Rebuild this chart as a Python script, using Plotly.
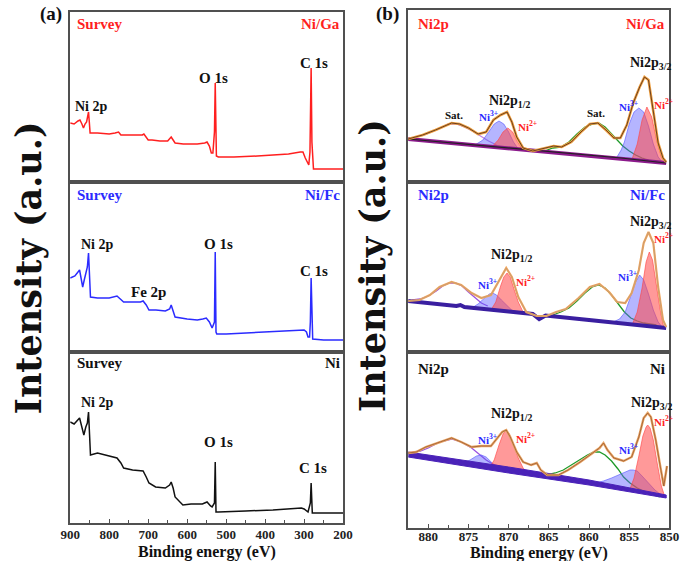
import plotly.graph_objects as go

# ---------------- survey spectra (left, a) ----------------
ga_sv_E = [900, 890, 880, 875, 870, 866, 862, 858, 855, 853, 851, 849, 830, 800, 785, 776, 770, 740, 715, 711, 705, 700,
           690, 670, 650, 641, 636, 631, 610, 590, 574, 555, 549, 543, 538, 534, 530, 528, 527, 525, 520, 480, 420, 380,
           340, 310, 303, 297, 291, 288, 285, 282, 280, 278, 276, 240, 200]
ga_sv_I = [59, 58, 61, 62, 58, 54, 58, 60, 66, 70, 60, 49, 49, 48, 49, 50, 47, 47, 47, 48, 45, 42,
           42, 41, 41, 45, 42, 39, 38, 38, 38, 39, 40, 36, 29, 29, 50, 99, 60, 26, 25, 25, 26, 27,
           28, 30, 30, 24, 18, 17, 30, 114, 40, 15, 13, 13, 13]

fc_sv_E = [900, 888, 876, 868, 864, 860, 856, 853, 850, 848, 830, 800, 780, 770, 763, 740, 720, 713, 705, 698, 680,
           656, 645, 641, 636, 631, 600, 574, 560, 551, 543, 536, 530, 528, 526, 524, 500, 450, 400, 350, 307, 300,
           294, 290, 286, 284, 282, 280, 278, 250, 200]
fc_sv_I = [74, 76, 82, 65, 72, 79, 85, 99, 70, 55, 54, 54, 56, 53, 50, 50, 50, 51, 47, 42, 42,
           41, 43, 47, 40, 35, 33, 32, 33, 34, 30, 24, 30, 100, 20, 18, 18, 19, 20, 21, 22, 22,
           20, 15, 15, 30, 74, 20, 13, 12, 12]

ni_sv_E = [900, 890, 876, 870, 865, 860, 856, 853, 850, 848, 830, 800, 780, 770, 763, 740, 713, 705, 698, 681, 656,
           645, 641, 636, 631, 611, 590, 561, 549, 540, 536, 530, 528, 526, 520, 450, 380, 307, 300, 290, 284, 282,
           279, 250, 200]
ni_sv_I = [101, 99, 105, 95, 88, 96, 100, 111, 80, 68, 70, 67, 65, 60, 55, 53, 52, 46, 40, 36, 35,
           38, 41, 35, 26, 18, 19, 19, 21, 17, 16, 20, 61, 11, 11, 12, 13, 15, 14, 11, 20, 40,
           10, 10, 10]

# ---------------- Ni 2p high-resolution (right, b) ----------------
# Ni/Ga
ga_env_E = [882.5, 880.7, 879.1, 877.1, 876.1, 875.0, 873.8, 872.8, 871.9, 871.0, 870.2, 869.6, 869.0, 868.2, 867.0,
            865.8, 864.4, 863.4, 862.2, 861.0, 859.9, 858.9, 857.9, 856.9, 856.1, 855.3, 854.5, 853.7, 853.1, 852.6,
            852.0, 851.4, 850.8, 850.4]
ga_env_I = [43, 47, 52, 59, 58, 54, 48, 50, 62, 67, 70, 60, 45, 34, 31,
            33, 36, 35, 40, 50, 58, 59, 52, 44, 44, 57, 79, 95, 105, 102,
            72, 39, 24, 20]
ga_bg_E = [882.5, 875.0, 868.0, 862.0, 856.0, 850.4]
ga_bg_I = [43, 37.5, 32.5, 28, 24, 19]
ga_n3a_E = [874.2, 873.2, 872.4, 871.8, 871.2, 870.6, 870.0, 869.4, 868.8]
ga_n3a_I = [37, 42, 51, 58, 61, 58, 50, 40, 33]
ga_n2a_E = [872.0, 871.3, 870.7, 870.1, 869.5, 868.9, 868.2]
ga_n2a_I = [36, 42, 50, 54, 50, 40, 32]
ga_n3b_E = [856.6, 856.0, 855.6, 855.0, 854.4, 853.8, 853.2, 852.6, 852.0, 851.4, 851.0]
ga_n3b_I = [24, 32, 40, 58, 70, 74, 70, 56, 38, 25, 21]
ga_n2b_E = [854.6, 854.0, 853.4, 852.8, 852.2, 851.6, 851.0, 850.6]
ga_n2b_I = [24, 38, 62, 75, 65, 42, 25, 20]
ga_satb_E = [865.5, 864.5, 863.5, 862.5, 861.5, 860.5, 859.5, 858.8, 858.0, 857.2, 856.5, 855.8, 855.0, 854.2, 853.4, 852.6]
ga_satb_I = [31, 34, 35, 40, 48, 55, 58, 59, 55, 48, 42, 36, 31, 27, 24, 22]
ga_sata_E = [882.5, 880.5, 879.0, 877.5, 876.5, 875.5, 874.5, 873.5, 872.5, 871.5]
ga_sata_I = [43, 47, 52, 58, 58, 55, 51, 46, 41, 37]

# Ni/Fc
fc_env_E = [882.5, 881.1, 879.8, 878.6, 877.1, 875.9, 874.6, 873.4, 872.2, 871.0, 870.3, 869.6, 868.8, 867.8, 866.5,
            865.3, 864.1, 862.9, 861.3, 859.9, 858.7, 857.5, 856.5, 855.5, 854.7, 853.8, 853.2, 852.6, 852.0, 851.4,
            850.8, 850.4]
fc_env_I = [51, 52, 57, 65, 70, 67, 59, 54, 57, 74, 84, 75, 55, 40, 36,
            36, 40, 43, 54, 65, 68, 60, 50, 49, 59, 82, 109, 120, 109, 65,
            32, 25]
fc_bg_E = [882.5, 876.5, 876.0, 875.5, 870.0, 867.0, 866.2, 865.4, 860.0, 855.0, 850.4]
fc_bg_I = [51, 46, 47, 45, 40.5, 38, 33, 36.5, 32, 28, 24]
fc_n3a_E = [874.6, 873.8, 873.0, 872.4, 872.0, 871.5, 870.9, 870.2, 869.5]
fc_n3a_I = [44, 48, 54, 58, 59, 57, 52, 46, 41]
fc_n2a_E = [872.2, 871.6, 871.0, 870.6, 870.2, 869.8, 869.3, 868.8, 868.2]
fc_n2a_I = [42, 50, 66, 75, 79, 75, 62, 50, 40]
fc_n3b_E = [857.0, 856.2, 855.5, 854.8, 854.2, 853.7, 853.2, 852.6, 852.0, 851.4, 850.9]
fc_n3b_I = [30, 33, 40, 55, 70, 77, 72, 58, 42, 30, 25]
fc_n2b_E = [854.6, 854.0, 853.4, 852.9, 852.5, 852.1, 851.6, 851.1, 850.7]
fc_n2b_I = [28, 40, 64, 90, 100, 92, 66, 40, 25]
fc_satb_E = [864.5, 863.5, 862.5, 861.5, 860.5, 859.6, 858.8, 858.0, 857.2, 856.4, 855.6, 854.8, 854.0, 853.2, 852.4, 851.6]
fc_satb_I = [37, 40, 44, 51, 59, 65, 67, 64, 57, 48, 40, 34, 31, 29, 28, 27]
fc_sata_E = [882.0, 881.0, 880.0, 879.0, 878.2, 877.4, 876.6, 875.8, 875.0, 874.2, 873.4, 872.6]
fc_sata_I = [52, 53, 56, 61, 66, 69, 69, 66, 60, 54, 49, 46]

# Ni
ni_env_E = [882.5, 881.5, 880.3, 878.6, 877.1, 875.9, 874.6, 873.4, 872.2, 871.4, 870.8, 870.3, 869.8, 869.0, 868.2,
            867.2, 866.5, 866.0, 865.2, 863.8, 862.6, 861.1, 859.8, 858.7, 858.2, 857.7, 856.9, 855.7, 854.7, 853.8,
            853.2, 852.7, 852.3, 851.7, 851.1, 850.7, 850.3]
ni_env_I = [75, 76, 81, 86, 90, 86, 81, 82, 82, 90, 96, 98, 91, 76, 66,
            63, 65, 58, 53, 53, 58, 66, 74, 80, 85, 78, 70, 67, 71, 91,
            110, 115, 111, 88, 60, 42, 62]
ni_bg_E = [882.5, 870.0, 860.0, 850.4]
ni_bg_hi = [76, 61, 48, 33]
ni_bg_lo = [71, 55, 43, 30]
ni_n3a_E = [875.6, 874.8, 874.0, 873.4, 872.8, 872.0, 871.4]
ni_n3a_I = [65, 68, 72, 73, 71, 65, 60]
ni_n2a_E = [872.4, 871.8, 871.2, 870.7, 870.3, 869.9, 869.4, 868.8, 868.2, 867.6]
ni_n2a_I = [60, 68, 83, 94, 98, 94, 84, 70, 60, 55]
ni_n3b_E = [859.2, 858.2, 857.2, 856.3, 855.5, 854.9, 854.5, 854.0, 853.4, 852.6, 851.8, 851.0, 850.6]
ni_n3b_I = [45, 47, 50, 53, 56, 58, 58, 57, 52, 45, 38, 33, 31]
ni_n2b_E = [855.0, 854.4, 853.8, 853.3, 852.9, 852.7, 852.4, 852.0, 851.5, 851.0, 850.6]
ni_n2b_I = [37, 50, 72, 92, 101, 103, 100, 88, 64, 42, 32]
ni_satb_E = [865.3, 864.2, 863.2, 862.2, 861.2, 860.2, 859.4, 858.7, 858.0, 857.2, 856.4, 855.7, 854.9, 854.0, 853.0, 852.0, 851.2]
ni_satb_I = [53, 55, 58, 63, 68, 73, 76, 76, 73, 67, 59, 51, 45, 40, 36, 33, 31]
ni_sata_E = [882.5, 881.0, 880.0, 878.6, 877.1, 875.9, 874.6, 873.6, 872.8, 872.0, 871.2]
ni_sata_I = [75, 77, 80, 86, 89, 86, 80, 73, 68, 64, 62]

left_ticks = [900, 800, 700, 600, 500, 400, 300, 200]
right_ticks = [880, 875, 870, 865, 860, 855, 850]

# ---------------- layout helpers ----------------
W, H = 693, 561
def px(x):
    return x / W
def py(y):
    return 1 - y / H

SERIF = "Liberation Serif, Times New Roman, serif"
RED = "#ff1f1f"
BLUE = "#2b2bff"
BLACK = "#111111"

fig = go.Figure()

def ax(i):
    return ("x" if i == 1 else f"x{i}"), ("y" if i == 1 else f"y{i}")

def line(i, x, y, color, width=1.4):
    xa, ya = ax(i)
    fig.add_trace(go.Scatter(x=x, y=y, xaxis=xa, yaxis=ya, mode="lines",
                             line=dict(color=color, width=width), hoverinfo="skip"))

def patch(i, x, y, fill, edge):
    xa, ya = ax(i)
    fig.add_trace(go.Scatter(x=x, y=y, xaxis=xa, yaxis=ya, mode="lines", fill="toself",
                             fillcolor=fill, line=dict(color=edge, width=0.8), hoverinfo="skip"))

# survey
line(1, ga_sv_E, ga_sv_I, RED, 1.5)
line(2, fc_sv_E, fc_sv_I, BLUE, 1.5)
line(3, ni_sv_E, ni_sv_I, BLACK, 1.5)

BLUEF = "rgba(90,90,255,0.45)"
REDF = "rgba(255,70,70,0.55)"

def comps(i, sata_E, sata_I, satb_E, satb_I, n3a, n2a, n3b, n2b, sata_col):
    line(i, sata_E, sata_I, sata_col, 1.3)
    line(i, satb_E, satb_I, "#1f9a2a", 1.3)
    patch(i, n3a[0], n3a[1], BLUEF, "rgba(90,90,255,0.8)")
    patch(i, n3b[0], n3b[1], BLUEF, "rgba(90,90,255,0.8)")
    patch(i, n2a[0], n2a[1], REDF, "rgba(255,70,70,0.8)")
    patch(i, n2b[0], n2b[1], REDF, "rgba(255,70,70,0.8)")

# Ni/Ga
comps(4, ga_sata_E, ga_sata_I, ga_satb_E, ga_satb_I,
      (ga_n3a_E, ga_n3a_I), (ga_n2a_E, ga_n2a_I), (ga_n3b_E, ga_n3b_I), (ga_n2b_E, ga_n2b_I), "#c080e0")
line(4, ga_bg_E, ga_bg_I, "#8b1a8b", 4)
line(4, ga_bg_E, ga_bg_I, "#222222", 1.2)
line(4, ga_env_E, ga_env_I, "#f0a040", 2.6)
line(4, ga_env_E, ga_env_I, "#6b4020", 1.0)

# Ni/Fc
comps(5, fc_sata_E, fc_sata_I, fc_satb_E, fc_satb_I,
      (fc_n3a_E, fc_n3a_I), (fc_n2a_E, fc_n2a_I), (fc_n3b_E, fc_n3b_I), (fc_n2b_E, fc_n2b_I), "#9a50e0")
line(5, fc_bg_E, fc_bg_I, "#3a1fa0", 4)
line(5, fc_env_E, fc_env_I, "#f2a55a", 2.2)
line(5, fc_env_E, fc_env_I, "rgba(150,150,150,0.6)", 0.7)

# Ni
comps(6, ni_sata_E, ni_sata_I, ni_satb_E, ni_satb_I,
      (ni_n3a_E, ni_n3a_I), (ni_n2a_E, ni_n2a_I), (ni_n3b_E, ni_n3b_I), (ni_n2b_E, ni_n2b_I), "#9a50e0")
xa6, ya6 = ax(6)
fig.add_trace(go.Scatter(x=ni_bg_E + ni_bg_E[::-1], y=ni_bg_hi + ni_bg_lo[::-1], xaxis=xa6, yaxis=ya6,
                         mode="lines", fill="toself", fillcolor="#4a22b8", line=dict(color="#4a22b8", width=1),
                         hoverinfo="skip"))
line(6, ni_env_E, ni_env_I, "#e9a565", 2.4)
line(6, ni_env_E, ni_env_I, "#9a5a30", 0.8)

# ---------------- axes ----------------
frame = dict(showline=True, mirror=True, linecolor="#505050", linewidth=1.6, showgrid=False, zeroline=False)
Lx = [px(62), px(343)]
Rx = [px(410), px(679)]
rowsL = [(12, 182), (182, 352), (352, 523)]
rowsR = [(10, 182), (182, 352), (352, 528)]
yr = [170, 170, 171, 172, 170, 176]
lay = {}
for k in range(6):
    i = k + 1
    left = k < 3
    top, bot = (rowsL if left else rowsR)[k % 3]
    xname = "xaxis" if i == 1 else f"xaxis{i}"
    yname = "yaxis" if i == 1 else f"yaxis{i}"
    bottom_row = (k % 3 == 2)
    xd = dict(frame, domain=Lx if left else Rx, anchor=("y" if i == 1 else f"y{i}"),
              range=[900, 200] if left else [882.5, 850])
    if bottom_row:
        xd.update(tickmode="array", tickvals=left_ticks if left else right_ticks,
                  ticks="inside", ticklen=4, tickwidth=1.2, tickcolor="#505050",
                  minor=dict(dtick=50 if left else 2.5, ticks="inside", ticklen=3, tickcolor="#505050"),
                  tickfont=dict(family=SERIF, size=13, color="#222222", weight="bold"),
                  ticklabelstandoff=(-1 if left else -4),
                  showticklabels=True)
    else:
        xd.update(showticklabels=False, ticks="")
    yd = dict(frame, domain=[py(bot), py(top)], anchor=("x" if i == 1 else f"x{i}"),
              range=[0, yr[k]], showticklabels=False, ticks="")
    lay[xname] = xd
    lay[yname] = yd

fig.update_layout(**lay)

# ---------------- annotations ----------------
ann = []
def T(text, x, y, size=14, color=BLACK, xa="center", family=SERIF, angle=0):
    ann.append(dict(text=text, x=px(x), y=py(y), xref="paper", yref="paper", showarrow=False,
                    xanchor=xa, yanchor="middle", textangle=angle,
                    font=dict(family=family, size=size, color=color, weight="bold")))

# panel tags
T("(a)", 42, 14, 19)
T("(b)", 389, 14, 19)
# left
T("Survey", 67, 24, 15, RED, "left"); T("Ni/Ga", 342, 24, 15, RED, "right")
T("Ni 2p", 65, 107, 14, BLACK, "left"); T("O 1s", 210, 78, 15); T("C 1s", 313, 63, 15)
T("Survey", 67, 195, 15, BLUE, "left"); T("Ni/Fc", 342, 195, 15, BLUE, "right")
T("Ni 2p", 71, 244, 14, BLACK, "left"); T("O 1s", 215, 244, 15); T("Fe 2p", 143, 292, 15); T("C 1s", 313, 271, 15)
T("Survey", 67, 363, 15, BLACK, "left"); T("Ni", 342, 363, 15, BLACK, "right")
T("Ni 2p", 71, 402, 14, BLACK, "left"); T("O 1s", 215, 442, 15); T("C 1s", 312, 468, 15)
# right
T("Ni2p", 418, 24, 15, RED, "left"); T("Ni/Ga", 677, 24, 15, RED, "right")
T("Sat.", 457, 115, 11); T("Ni<sup>3+</sup>", 493, 116, 11, BLUE); T("Ni2p<sub>1/2</sub>", 514, 101, 14)
T("Ni<sup>2+</sup>", 533, 126, 11, RED); T("Sat.", 603, 113, 11)
T("Ni<sup>3+</sup>", 637, 106, 11, BLUE); T("Ni2p<sub>3/2</sub>", 660, 63, 14); T("Ni<sup>2+</sup>", 673, 104, 11, RED)

T("Ni2p", 418, 195, 15, BLUE, "left"); T("Ni/Fc", 677, 195, 15, BLUE, "right")
T("Ni2p<sub>1/2</sub>", 516, 256, 14); T("Ni<sup>3+</sup>", 492, 284, 11, BLUE); T("Ni<sup>2+</sup>", 531, 281, 11, RED)
T("Ni<sup>3+</sup>", 636, 276, 11, BLUE); T("Ni2p<sub>3/2</sub>", 660, 222, 14); T("Ni<sup>2+</sup>", 673, 238, 11, RED)

T("Ni2p", 418, 369, 15, BLACK, "left"); T("Ni", 677, 369, 15, BLACK, "right")
T("Ni2p<sub>1/2</sub>", 516, 414, 14); T("Ni<sup>3+</sup>", 492, 439, 11, BLUE); T("Ni<sup>2+</sup>", 531, 438, 11, RED)
T("Ni<sup>3+</sup>", 637, 449, 11, BLUE); T("Ni2p<sub>3/2</sub>", 661, 403, 14); T("Ni<sup>2+</sup>", 673, 421, 11, RED)

# axis titles
T("Binding energy (eV)", 203, 552, 16)
T("Binding energy (eV)", 545, 553, 16)
T("Intensity (a.u.)", 19, 268, 35, BLACK, "center", "DejaVu Serif, serif", -90)
T("Intensity (a.u.)", 373, 266, 35, BLACK, "center", "DejaVu Serif, serif", -90)

fig.update_layout(annotations=ann, width=W, height=H, margin=dict(l=0, r=0, t=0, b=0),
                  paper_bgcolor="white", plot_bgcolor="white", showlegend=False)

fig.write_html("out.html")
